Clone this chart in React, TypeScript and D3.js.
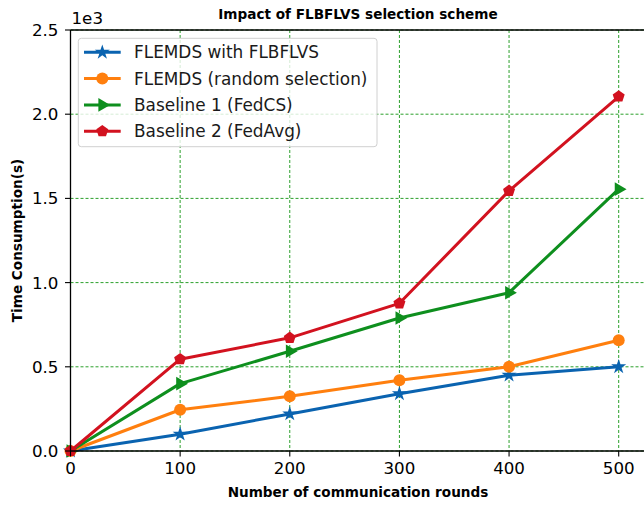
import React from "react";
import * as d3 from "d3";

const width = 644;
const height = 505;
const margin = { top: 30, left: 70.5, bottom: 451 };

const rounds = [0, 100, 200, 300, 400, 500];
const withFlbflvs = [0, 100, 220, 340, 450, 500];
const randomSelection = [0, 245, 325, 420, 500, 658];
const fedCS = [0, 400, 592, 790, 940, 1555];
const fedAvg = [0, 545, 672, 877, 1545, 2105];

const xTicks = [0, 100, 200, 300, 400, 500];
const yTicks = [0, 500, 1000, 1500, 2000, 2500];

const seriesNames = [
  "FLEMDS with FLBFLVS",
  "FLEMDS (random selection)",
  "Baseline 1 (FedCS)",
  "Baseline 2 (FedAvg)",
];
const seriesValues = [withFlbflvs, randomSelection, fedCS, fedAvg];
const colors = ["#0a63b0", "#ff7f0e", "#0e8f1e", "#d2121f"];
const markers = ["star", "circle", "triangle", "pentagon"];

const font = "DejaVu Sans, sans-serif";

const x = d3.scaleLinear().domain([0, 527]).range([margin.left, margin.left + 527 * (548.2 / 500)]);
const y = d3.scaleLinear().domain([0, 2500]).range([margin.bottom, margin.top]);

const pentagon = (r: number) => {
  const pts = d3.range(5).map((i) => {
    const a = -Math.PI / 2 + (i * 2 * Math.PI) / 5;
    return [r * Math.cos(a), r * Math.sin(a)] as [number, number];
  });
  return d3.line()(pts) + "Z";
};

function Marker({ type, cx, cy, color }: { type: string; cx: number; cy: number; color: string }) {
  if (type === "circle") return <circle cx={cx} cy={cy} r={6} fill={color} />;
  if (type === "star")
    return <path d={d3.symbol(d3.symbolStar, 70)()!} transform={`translate(${cx},${cy})`} fill={color} />;
  if (type === "triangle")
    return (
      <path
        d={d3.symbol(d3.symbolTriangle, 80)()!}
        transform={`translate(${cx},${cy}) rotate(90)`}
        fill={color}
      />
    );
  return <path d={pentagon(6.3)} transform={`translate(${cx},${cy})`} fill={color} />;
}

export default function App() {
  const line = d3
    .line<number>()
    .x((_, i) => x(rounds[i]))
    .y((d) => y(d));

  return (
    <svg
      width={width}
      height={height}
      style={{ position: "absolute", left: 0, top: 0, background: "#fff" }}
      fontFamily={font}
    >
      <rect width={width} height={height} fill="#fff" />
      {/* grid */}
      {xTicks.map((t) => (
        <line key={"gx" + t} x1={x(t)} x2={x(t)} y1={margin.top} y2={margin.bottom} stroke="#2ca02c" strokeWidth={1} strokeDasharray="3,2" />
      ))}
      {yTicks.map((t) => (
        <line key={"gy" + t} x1={margin.left} x2={width + 5} y1={y(t)} y2={y(t)} stroke="#2ca02c" strokeWidth={1} strokeDasharray="3,2" />
      ))}

      {/* series */}
      {seriesValues.map((vals, si) => (
        <g key={si}>
          <path d={line(vals)!} fill="none" stroke={colors[si]} strokeWidth={3} strokeLinejoin="round" />
          {vals.map((v, i) => (
            <Marker key={i} type={markers[si]} cx={x(rounds[i])} cy={y(v)} color={colors[si]} />
          ))}
        </g>
      ))}

      {/* spines */}
      <line x1={margin.left} x2={margin.left} y1={margin.top} y2={margin.bottom} stroke="#000" strokeWidth={1.3} />
      <line x1={margin.left} x2={width + 5} y1={margin.bottom} y2={margin.bottom} stroke="#000" strokeWidth={1.3} />
      <line x1={margin.left} x2={width + 5} y1={margin.top} y2={margin.top} stroke="#000" strokeWidth={1.3} />

      {/* x ticks */}
      {xTicks.map((t) => (
        <g key={"xt" + t}>
          <line x1={x(t)} x2={x(t)} y1={margin.bottom} y2={margin.bottom + 5.5} stroke="#000" strokeWidth={1.1} />
          <text x={x(t)} y={margin.bottom + 23} textAnchor="middle" fontSize={16.7} fill="#000">
            {t}
          </text>
        </g>
      ))}
      {/* y ticks */}
      {yTicks.map((t) => (
        <g key={"yt" + t}>
          <line x1={margin.left - 5.5} x2={margin.left} y1={y(t)} y2={y(t)} stroke="#000" strokeWidth={1.1} />
          <text x={margin.left - 12} y={y(t)} dy="0.36em" textAnchor="end" fontSize={16.7} fill="#000">
            {(t / 1000).toFixed(1)}
          </text>
        </g>
      ))}
      <text x={margin.left + 1} y={24} fontSize={16.7} fill="#000">
        1e3
      </text>

      {/* labels */}
      <text x={358} y={19} textAnchor="middle" fontSize={13.6} fontWeight="bold" fill="#000">
        Impact of FLBFLVS selection scheme
      </text>
      <text x={358} y={497} textAnchor="middle" fontSize={13.6} fontWeight="bold" fill="#000">
        Number of communication rounds
      </text>
      <text
        transform={`translate(22,${(margin.top + margin.bottom) / 2}) rotate(-90)`}
        textAnchor="middle"
        fontSize={13.6}
        fontWeight="bold"
        fill="#000"
      >
        Time Consumption(s)
      </text>

      {/* legend */}
      <g>
        <rect x={78.3} y={38.3} width={298.7} height={108.4} rx={3} fill="#fff" fillOpacity={0.8} stroke="#d0d0d0" strokeWidth={1} />
        {seriesNames.map((name, i) => {
          const cy = 52.3 + i * 26.3;
          return (
            <g key={name}>
              <line x1={84} x2={120.7} y1={cy} y2={cy} stroke={colors[i]} strokeWidth={3} />
              <Marker type={markers[i]} cx={102.3} cy={cy} color={colors[i]} />
              <text x={134} y={cy} dy="0.36em" fontSize={16.9} fill="#1a1a1a">
                {name}
              </text>
            </g>
          );
        })}
      </g>
    </svg>
  );
}
